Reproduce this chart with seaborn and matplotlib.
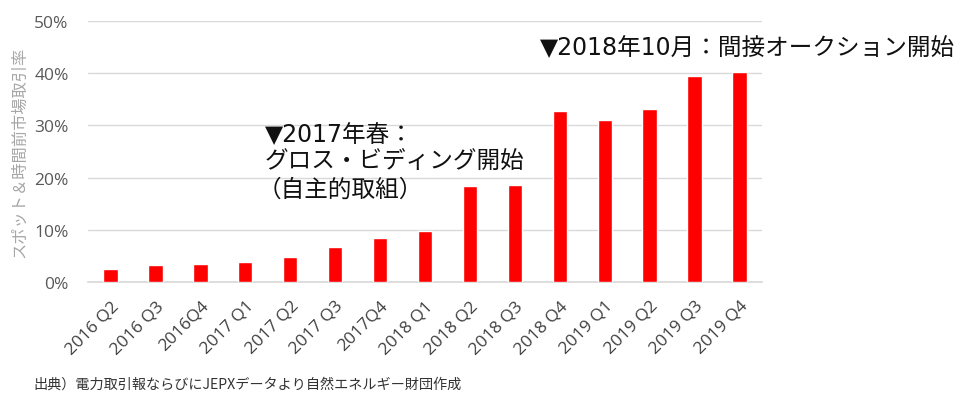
import matplotlib
matplotlib.use("Agg")
import matplotlib.pyplot as plt
import seaborn as sns
import pandas as pd

categories = ["2016 Q2", "2016 Q3", "2016Q4", "2017 Q1", "2017 Q2", "2017 Q3", "2017Q4",
              "2018 Q1", "2018 Q2", "2018 Q3", "2018 Q4", "2019 Q1", "2019 Q2", "2019 Q3", "2019 Q4"]
values = [2.5, 3.2, 3.4, 3.9, 4.7, 6.8, 8.5, 9.7, 18.3, 18.5, 32.7, 31.0, 33.1, 39.4, 40.2]
yticks = [0, 10, 20, 30, 40, 50]
ytick_labels = ["0%", "10%", "20%", "30%", "40%", "50%"]

sns.set_theme(style="white")
plt.rcParams['font.family'] = ['Noto Sans CJK JP', 'DejaVu Sans']

df = pd.DataFrame({"q": categories, "v": values})
fig = plt.figure(figsize=(9.6, 4.06), dpi=100)
ax = fig.add_axes([88/960, (406-283)/406, (762-88)/960, (283-22)/406])
sns.barplot(data=df, x="q", y="v", color="#ff0000", saturation=1, width=0.32, ax=ax, zorder=3)
ax.set_ylim(0, 50)
ax.set_yticks(yticks)
ax.set_yticklabels(ytick_labels, color="#595959", fontsize=12.5, family=['Open Sans', 'DejaVu Sans'])
ax.set_xticks(range(len(categories)))
ax.set_xticklabels(categories, rotation=45, ha="right", rotation_mode="anchor",
                   color="#404040", fontsize=12.5, family=['Open Sans', 'DejaVu Sans'])
ax.set_xlim(-0.5, len(categories) - 0.5)
ax.grid(axis="y", color="#d9d9d9", linewidth=1, zorder=0)
for s in ["top", "right", "left"]:
    ax.spines[s].set_visible(False)
ax.spines["bottom"].set_color("#d9d9d9")
ax.tick_params(axis="x", length=0, pad=11)
ax.tick_params(axis="y", length=0, pad=14)
ax.set_xlabel("")
ax.set_ylabel("スポット＆時間前市場取引率", color="#a6a6a6", fontsize=11.7, labelpad=4)

fs = 17
fig.text(265/960, 1 - 135/406, "▼2017年春：", fontsize=fs, va="center", ha="left", color="#111111",
         family=['DejaVu Sans', 'Noto Sans CJK JP'])
fig.text(265/960, 1 - 162/406, "グロス・ビディング開始", fontsize=fs, va="center", ha="left", color="#111111")
fig.text(258/960, 1 - 190/406, "（自主的取組）", fontsize=fs, va="center", ha="left", color="#111111")
fig.text(540/960, 1 - 48/406, "▼2018年10月：間接オークション開始", fontsize=fs, va="center", ha="left",
         color="#111111", family=['DejaVu Sans', 'Noto Sans CJK JP'])
fig.text(33/960, 1 - 385/406, "出典）電力取引報ならびにJEPXデータより自然エネルギー財団作成", fontsize=10.2,
         va="center", ha="left", color="#333333")

fig.savefig("out.png", dpi=100)
